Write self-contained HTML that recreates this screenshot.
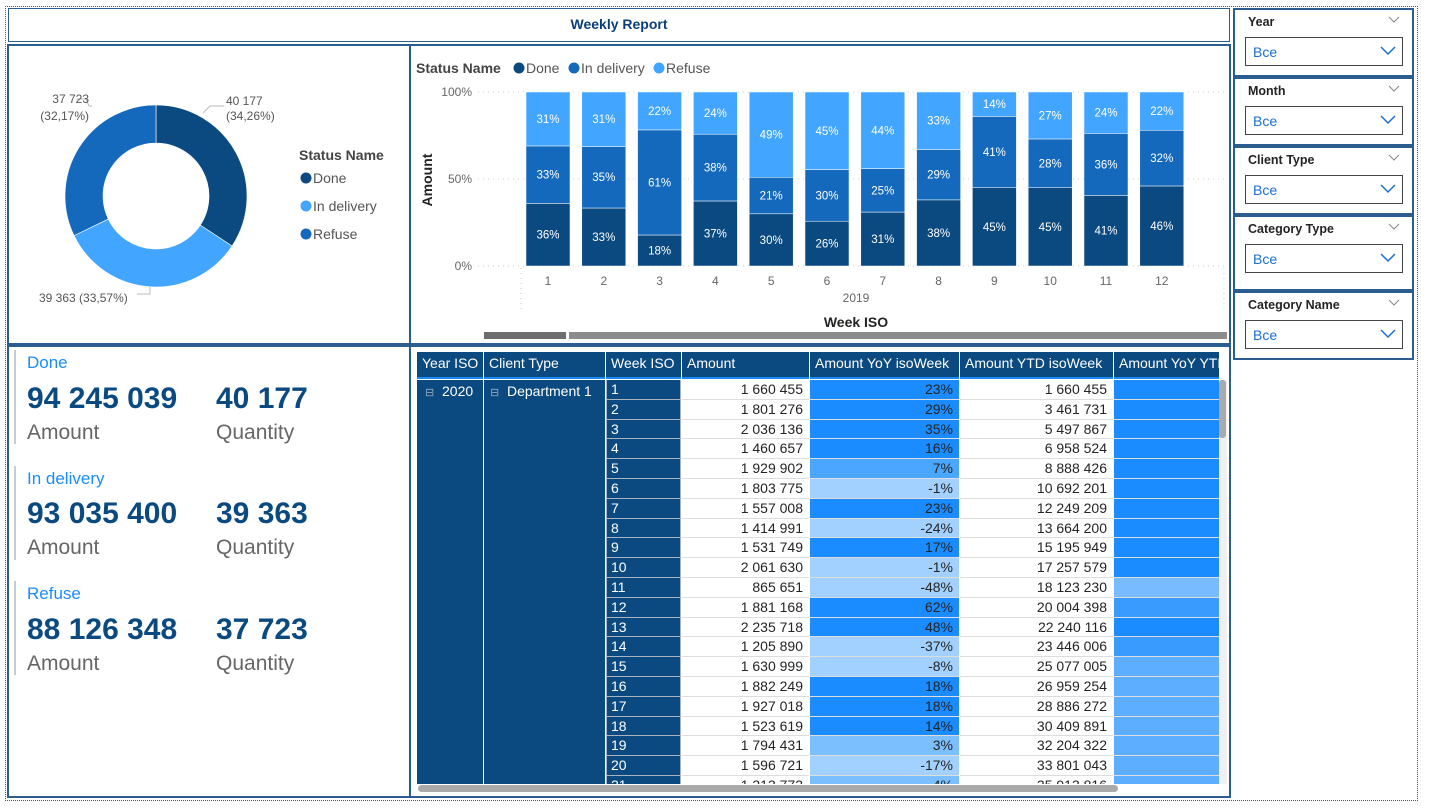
<!DOCTYPE html>
<html><head><meta charset="utf-8">
<style>
body{margin:0;width:1429px;height:811px;background:#fff;font-family:"Liberation Sans",sans-serif;position:relative;overflow:hidden}
.abs{position:absolute}
.panel{position:absolute;border:2px solid #2c5d8f;box-sizing:border-box;background:#fff}
.kh{position:absolute;left:27px;color:#1a8cff;font-size:17px}
.kv{position:absolute;font-size:30px;font-weight:bold;color:#0b4a80}
.kl{position:absolute;font-size:21px;color:#666}
.kbar{position:absolute;left:14px;width:2px;background:#ccc}
.sl{position:absolute;left:1233px;width:181px;border:2px solid #2c5d8f;box-sizing:border-box;background:#fff}
.sl .t{position:absolute;left:13px;top:5px;font-size:12.5px;font-weight:bold;color:#252423}
.sl .c{position:absolute;right:12px;top:6px}
.sl .b{position:absolute;left:10px;top:27px;width:158px;height:29px;border:1.5px solid #444;box-sizing:border-box}
.sl .b span{position:absolute;left:7px;top:6px;color:#1a6fd0;font-size:14px}
.cell{position:absolute;box-sizing:border-box;font-size:14px;white-space:nowrap;overflow:hidden}
</style></head><body>
<div class="abs" style="left:5px;top:6px;width:1411px;height:793px;border:1px dotted #555"></div>
<div class="abs" style="left:8px;top:8px;width:1222px;height:34px;border:1px solid #2c5d8f;box-sizing:border-box;text-align:center;line-height:31px;font-weight:bold;font-size:14px;color:#0b3f7a">Weekly Report</div>

<div class="panel" style="left:7px;top:44px;width:404px;height:301px"></div>
<div class="panel" style="left:409px;top:44px;width:822px;height:301px"></div>
<div class="panel" style="left:7px;top:345px;width:404px;height:453px"></div>
<div class="panel" style="left:409px;top:345px;width:822px;height:453px"></div>

<svg class="abs" style="left:0;top:0" width="1429" height="811" id="svg"></svg>

<!-- KPIs -->
<div class="kbar" style="top:350px;height:94px"></div>
<div class="kh" style="top:353px">Done</div>
<div class="kv" style="left:27px;top:382px">94 245 039</div>
<div class="kv" style="left:216px;top:382px">40 177</div>
<div class="kl" style="left:27px;top:421px">Amount</div>
<div class="kl" style="left:216px;top:421px">Quantity</div>
<div class="kbar" style="top:466px;height:94px"></div>
<div class="kh" style="top:469px">In delivery</div>
<div class="kv" style="left:27px;top:497px">93 035 400</div>
<div class="kv" style="left:216px;top:497px">39 363</div>
<div class="kl" style="left:27px;top:536px">Amount</div>
<div class="kl" style="left:216px;top:536px">Quantity</div>
<div class="kbar" style="top:581px;height:94px"></div>
<div class="kh" style="top:584px">Refuse</div>
<div class="kv" style="left:27px;top:613px">88 126 348</div>
<div class="kv" style="left:216px;top:613px">37 723</div>
<div class="kl" style="left:27px;top:652px">Amount</div>
<div class="kl" style="left:216px;top:652px">Quantity</div>

<!-- Slicers -->
<div class="sl" style="top:8px;height:69px"><div class="t">Year</div><svg class="c" width="12" height="7"><polyline points="1,1 6,6 11,1" fill="none" stroke="#888" stroke-width="1"/></svg><div class="b"><span>Bce</span><svg class="abs" style="right:6px;top:8px" width="16" height="10"><polyline points="1,1 8,8 15,1" fill="none" stroke="#1a6fd0" stroke-width="1.5"/></svg></div></div>
<div class="sl" style="top:77px;height:69px"><div class="t">Month</div><svg class="c" width="12" height="7"><polyline points="1,1 6,6 11,1" fill="none" stroke="#888" stroke-width="1"/></svg><div class="b"><span>Bce</span><svg class="abs" style="right:6px;top:8px" width="16" height="10"><polyline points="1,1 8,8 15,1" fill="none" stroke="#1a6fd0" stroke-width="1.5"/></svg></div></div>
<div class="sl" style="top:146px;height:69px"><div class="t">Client Type</div><svg class="c" width="12" height="7"><polyline points="1,1 6,6 11,1" fill="none" stroke="#888" stroke-width="1"/></svg><div class="b"><span>Bce</span><svg class="abs" style="right:6px;top:8px" width="16" height="10"><polyline points="1,1 8,8 15,1" fill="none" stroke="#1a6fd0" stroke-width="1.5"/></svg></div></div>
<div class="sl" style="top:215px;height:76px"><div class="t">Category Type</div><svg class="c" width="12" height="7"><polyline points="1,1 6,6 11,1" fill="none" stroke="#888" stroke-width="1"/></svg><div class="b"><span>Bce</span><svg class="abs" style="right:6px;top:8px" width="16" height="10"><polyline points="1,1 8,8 15,1" fill="none" stroke="#1a6fd0" stroke-width="1.5"/></svg></div></div>
<div class="sl" style="top:291px;height:69px"><div class="t">Category Name</div><svg class="c" width="12" height="7"><polyline points="1,1 6,6 11,1" fill="none" stroke="#888" stroke-width="1"/></svg><div class="b"><span>Bce</span><svg class="abs" style="right:6px;top:8px" width="16" height="10"><polyline points="1,1 8,8 15,1" fill="none" stroke="#1a6fd0" stroke-width="1.5"/></svg></div></div>

<div id="table" class="abs" style="left:416px;top:351px;width:812px;height:443px;overflow:hidden"></div>

<script>
// Donut data
const donutCats=["Done","In delivery","Refuse"];
const donutVals=[40177,39363,37723];
const donutLabels=["40 177","39 363","37 723"];
// Bar data
const weeks=["1","2","3","4","5","6","7","8","9","10","11","12"];
const doneVals=[36,33,18,37,30,26,31,38,45,45,41,46];
const deliveryVals=[33,35,61,38,21,30,25,29,41,28,36,32];
const refuseVals=[31,31,22,24,49,45,44,33,14,27,24,22];
const yTicks=[0,50,100];
// Table data
const tWeeks=[1,2,3,4,5,6,7,8,9,10,11,12,13,14,15,16,17,18,19,20,21];
const tAmount=["1 660 455","1 801 276","2 036 136","1 460 657","1 929 902","1 803 775","1 557 008","1 414 991","1 531 749","2 061 630","865 651","1 881 168","2 235 718","1 205 890","1 630 999","1 882 249","1 927 018","1 523 619","1 794 431","1 596 721","1 313 773"];
const tYoY=[23,29,35,16,7,-1,23,-24,17,-1,-48,62,48,-37,-8,18,18,14,3,-17,4];
const tYTD=["1 660 455","3 461 731","5 497 867","6 958 524","8 888 426","10 692 201","12 249 209","13 664 200","15 195 949","17 257 579","18 123 230","20 004 398","22 240 116","23 446 006","25 077 005","26 959 254","28 886 272","30 409 891","32 204 322","33 801 043","35 913 816"];
const tYoYYTD=[30,30,30,30,30,30,30,30,30,30,5,20,25,15,12,12,12,12,12,12,12];

const NS="http://www.w3.org/2000/svg";
const svg=document.getElementById('svg');
function mk(tag,attrs,name,inter){const e=document.createElementNS(NS,tag);for(const k in attrs)e.setAttribute(k,attrs[k]);


svg.appendChild(e);return e;}
function txt(x,y,s,attrs,name){const e=mk('text',Object.assign({x:x,y:y,'font-family':'Liberation Sans, sans-serif'},attrs),name,false);e.textContent=s;return e;}

// Donut
const cx=156,cy=196,R=91,r=53;
const dColors=["#0b4a80","#42a5ff","#1469bd"];
const tot=donutVals.reduce((a,b)=>a+b,0);
let a0=-Math.PI/2;
donutVals.forEach((v,i)=>{
  const a1=a0+v/tot*2*Math.PI;const lg=(a1-a0)>Math.PI?1:0;
  const p=(rad,a)=>[cx+rad*Math.cos(a),cy+rad*Math.sin(a)];
  const [x1,y1]=p(R,a0),[x2,y2]=p(R,a1),[x3,y3]=p(r,a1),[x4,y4]=p(r,a0);
  mk('path',{d:`M${x1},${y1}A${R},${R} 0 ${lg} 1 ${x2},${y2}L${x3},${y3}A${r},${r} 0 ${lg} 0 ${x4},${y4}Z`,fill:dColors[i],stroke:'#fff','stroke-width':0.6},'donut-slice-'+donutCats[i].toLowerCase().replace(' ','-'),true);
  a0=a1;
});
const pct=v=>(v/tot*100).toFixed(2).replace('.',',')+'%';
mk('polyline',{points:'203,113 210,106 224,106',fill:'none',stroke:'#bbb'},'leader-line',false);
txt(226,105,donutLabels[0],{'font-size':12,fill:'#555'},'donut-label');
txt(226,120,'('+pct(donutVals[0])+')',{'font-size':12,fill:'#555'},'donut-label');
mk('polyline',{points:'92,106 89,106 86,99 76,99',fill:'none',stroke:'#bbb'},'leader-line',false);
txt(89,103,donutLabels[2],{'font-size':12,fill:'#555','text-anchor':'end'},'donut-label');
txt(89,120,'('+pct(donutVals[2])+')',{'font-size':12,fill:'#555','text-anchor':'end'},'donut-label');
mk('polyline',{points:'137,294 150,294 150,287',fill:'none',stroke:'#bbb'},'leader-line',false);
txt(39,302,donutLabels[1]+' ('+pct(donutVals[1])+')',{'font-size':12,fill:'#555'},'donut-label');
txt(299,160,'Status Name',{'font-size':14,'font-weight':'bold',fill:'#444'},'donut-legend-title');
donutCats.forEach((c,i)=>{const y=178+i*28;
 mk('circle',{cx:306,cy:y,r:5.5,fill:dColors[i]},'donut-legend-marker',false);
 txt(313,y+5,c,{'font-size':14,fill:'#555'},'donut-legend-entry');});

// Bar chart
const bColors=["#0b4a80","#1469bd","#42a5ff"];
const y0=266,y1=92;const yS=v=>y0-(v/100)*(y0-y1);
const xS=i=>548+i*55.8;const bw=44;
txt(416,73,'Status Name',{'font-size':14,'font-weight':'bold',fill:'#444'},'bar-legend-title');
[["Done",519],["In delivery",574],["Refuse",659]].forEach((l,i)=>{
 mk('circle',{cx:l[1],cy:68,r:5.5,fill:bColors[i]},'bar-legend-marker',false);
 txt(l[1]+7,73,l[0],{'font-size':14,fill:'#555'},'bar-legend-entry');});
yTicks.forEach(t=>{const y=yS(t);
 mk('line',{x1:478,x2:1226,y1:y,y2:y,stroke:'#ccc','stroke-dasharray':'1,4'},'gridline',false);
 txt(472,y+4,t+'%',{'font-size':12,fill:'#666','text-anchor':'end'},'y-tick-label');});
mk('line',{x1:521,x2:521,y1:268,y2:310,stroke:'#ccc','stroke-dasharray':'1,4'},'axis-divider',false);
mk('line',{x1:1224,x2:1224,y1:268,y2:310,stroke:'#ccc','stroke-dasharray':'1,4'},'axis-divider',false);
txt(0,0,'Amount',{'font-size':14,'font-weight':'bold',fill:'#252423','text-anchor':'middle',transform:'translate(432,180) rotate(-90)'},'y-axis-title');
weeks.forEach((w,i)=>{
 const vals=[doneVals[i],deliveryVals[i],refuseVals[i]];const s=vals.reduce((a,b)=>a+b,0);
 let acc=0;
 vals.forEach((v,k)=>{const top=yS((acc+v)/s*100),bot=yS(acc/s*100);
  mk('rect',{x:xS(i)-bw/2,y:top,width:bw,height:bot-top,fill:bColors[k],stroke:'#fff','stroke-width':0.5},'bar-'+['done','delivery','refuse'][k]+'-week'+w,true);
  txt(xS(i),(top+bot)/2+4,v+'%',{'font-size':11.5,fill:'#fff','text-anchor':'middle'},'bar-value-label');
  acc+=v;});
 txt(xS(i),285,w,{'font-size':12,fill:'#666','text-anchor':'middle'},'x-tick-label');
});
txt(856,302,'2019',{'font-size':12,fill:'#666','text-anchor':'middle'},'x-year-label');
txt(856,327,'Week ISO',{'font-size':14,'font-weight':'bold',fill:'#252423','text-anchor':'middle'},'x-axis-title');
mk('rect',{x:484,y:332,width:82,height:7,fill:'#6d6d6d'},'scrollbar-thumb',true);
mk('rect',{x:569,y:332,width:658,height:7,fill:'#8c8c8c'},'scrollbar-track',true);

// Table
const T=document.getElementById('table');
function cell(x,y,w,h,html,style,name){const d=document.createElement('div');d.className='cell';
d.style.cssText=`left:${x}px;top:${y}px;width:${w}px;height:${h}px;`+style;d.innerHTML=html;


T.appendChild(d);return d;}
const cols=[[1,66,'Year ISO'],[68,121,'Client Type'],[190,75,'Week ISO'],[266,127,'Amount'],[394,149,'Amount YoY isoWeek'],[544,153,'Amount YTD isoWeek'],[698,105,'Amount YoY YTD isoWeek']];
const dark='#0b4a80';
cols.forEach(c=>cell(c[0],1,c[1],27,c[2],`background:${dark};color:#fff;padding:3px 5px;border-bottom:2px solid #1a8cff;`,'table-header'));
cell(1,29,66,404,'<span style="color:#9ab;font-size:11px">&#x229F;</span>&nbsp; 2020',`background:${dark};color:#fff;padding:3px 8px;`,'year-cell');
cell(68,29,121,404,'<span style="color:#9ab;font-size:11px">&#x229F;</span>&nbsp; Department 1',`background:${dark};color:#fff;padding:3px 6px;`,'client-type-cell');
function yoyColor(v){if(v>=10)return '#1a8cff';if(v>=5)return '#4aa6ff';if(v>=0)return '#7cbfff';return '#a3d1ff';}
function ytdColor(v){if(v>=25)return '#1a8cff';if(v>=15)return '#3a9bff';if(v>=10)return '#5daeff';return '#78bcff';}
const rh=19.8;
tWeeks.forEach((w,i)=>{const y=29+i*rh;
 cell(190,y,75,rh,w,`background:${dark};color:#fff;padding:1px 4px;border:1px solid #aab4c0;border-top:none;`,'week-cell');
 cell(266,y,127,rh,tAmount[i],'background:#fff;color:#252423;text-align:right;padding:1px 6px;border-bottom:1px solid #ddd;','amount-cell');
 cell(394,y,149,rh,tYoY[i]+'%',`background:${yoyColor(tYoY[i])};color:#252423;text-align:right;padding:1px 6px;border-bottom:1px solid #ddd;`,'yoy-cell');
 cell(544,y,153,rh,tYTD[i],'background:#fff;color:#252423;text-align:right;padding:1px 6px;border-bottom:1px solid #ddd;','ytd-cell');
 cell(698,y,105,rh,'',`background:${ytdColor(tYoYYTD[i])};border-bottom:1px solid #ddd;`,'yoy-ytd-cell');
});
cell(0,433,812,10,'','background:#fff;','table-footer-space');
cell(803,29,8,404,'','background:#f0f0f0;','v-scroll-track');
cell(803,29,7,58,'','background:#aaa;border-radius:3px;','v-scroll-thumb');
cell(2,434,700,7,'','background:#aaa;border-radius:4px;','h-scroll-thumb');
</script>
</body></html>
